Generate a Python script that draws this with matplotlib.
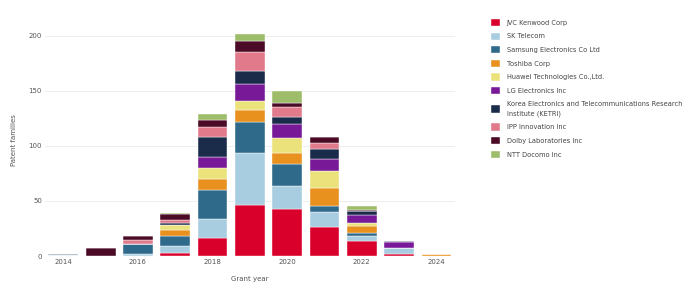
import matplotlib
matplotlib.use("Agg")
import matplotlib.pyplot as plt
import numpy as np

years = [2014, 2015, 2016, 2017, 2018, 2019, 2020, 2021, 2022, 2023, 2024]
companies = [
    "JVC Kenwood Corp",
    "SK Telecom",
    "Samsung Electronics Co Ltd",
    "Toshiba Corp",
    "Huawei Technologies Co.,Ltd.",
    "LG Electronics Inc",
    "Korea Electronics and Telecommunications Research\nInstitute (KETRI)",
    "IPP Innovation Inc",
    "Dolby Laboratories Inc",
    "NTT Docomo Inc",
]
jvc      = [0, 0, 0, 3, 16, 46, 43, 26, 14, 2, 0]
sk       = [1, 0, 2, 6, 18, 48, 21, 14, 4, 5, 0]
samsung  = [0, 0, 9, 9, 26, 28, 20, 5, 3, 0, 0]
toshiba  = [0, 0, 0, 6, 10, 11, 10, 17, 6, 0, 2]
huawei   = [0, 0, 0, 4, 10, 8, 13, 15, 3, 0, 0]
lg       = [0, 0, 0, 0, 10, 15, 13, 11, 7, 6, 0]
ketri    = [1, 0, 0, 2, 18, 12, 6, 9, 4, 1, 0]
ipp      = [0, 0, 4, 3, 9, 17, 9, 6, 0, 0, 0]
dolby    = [0, 7, 3, 5, 7, 10, 4, 5, 1, 0, 0]
ntt      = [0, 0, 0, 1, 5, 7, 11, 0, 3, 0, 0]
series = [jvc, sk, samsung, toshiba, huawei, lg, ketri, ipp, dolby, ntt]
colors = ["#d9002b", "#a9cde0", "#2f6a8a", "#e8911f", "#ece27c",
          "#781a98", "#1b2c4b", "#e17a8b", "#4b0a25", "#9dbd6b"]

fig = plt.figure(figsize=(6.98, 2.97), dpi=100)
ax = fig.add_axes([0.064, 0.138, 0.588, 0.778])

bottom = np.zeros(len(years))
handles = []
for vals, c, name in zip(series, colors, companies):
    b = ax.bar(years, vals, bottom=bottom, width=0.8, color=c, label=name,
               edgecolor="white", linewidth=0.3, zorder=3)
    handles.append(b)
    bottom += np.array(vals)

ax.set_xlim(2013.5, 2024.5)
ax.set_ylim(0, 210)
ax.set_yticks([0, 50, 100, 150, 200])
ax.set_xticks([2014, 2016, 2018, 2020, 2022, 2024])
ax.grid(axis="y", color="#ebebeb", linewidth=0.6, zorder=0)
for s in ax.spines.values():
    s.set_visible(False)
ax.tick_params(length=0, labelsize=5, colors="#555555", pad=2)
ax.set_ylabel("Patent families", fontsize=5, color="#555555", labelpad=8)
ax.set_xlabel("Grant year", fontsize=5, color="#555555", labelpad=8)

leg = fig.legend(handles=handles, labels=companies, loc="upper left",
                 bbox_to_anchor=(0.700, 0.945), frameon=False, fontsize=4.8,
                 handlelength=1.3, handleheight=1.3, labelspacing=0.95,
                 handletextpad=1.0, borderaxespad=0, labelcolor="#444444")
for t in leg.get_texts():
    t.set_linespacing(1.8)

fig.savefig("out.png", dpi=100)
